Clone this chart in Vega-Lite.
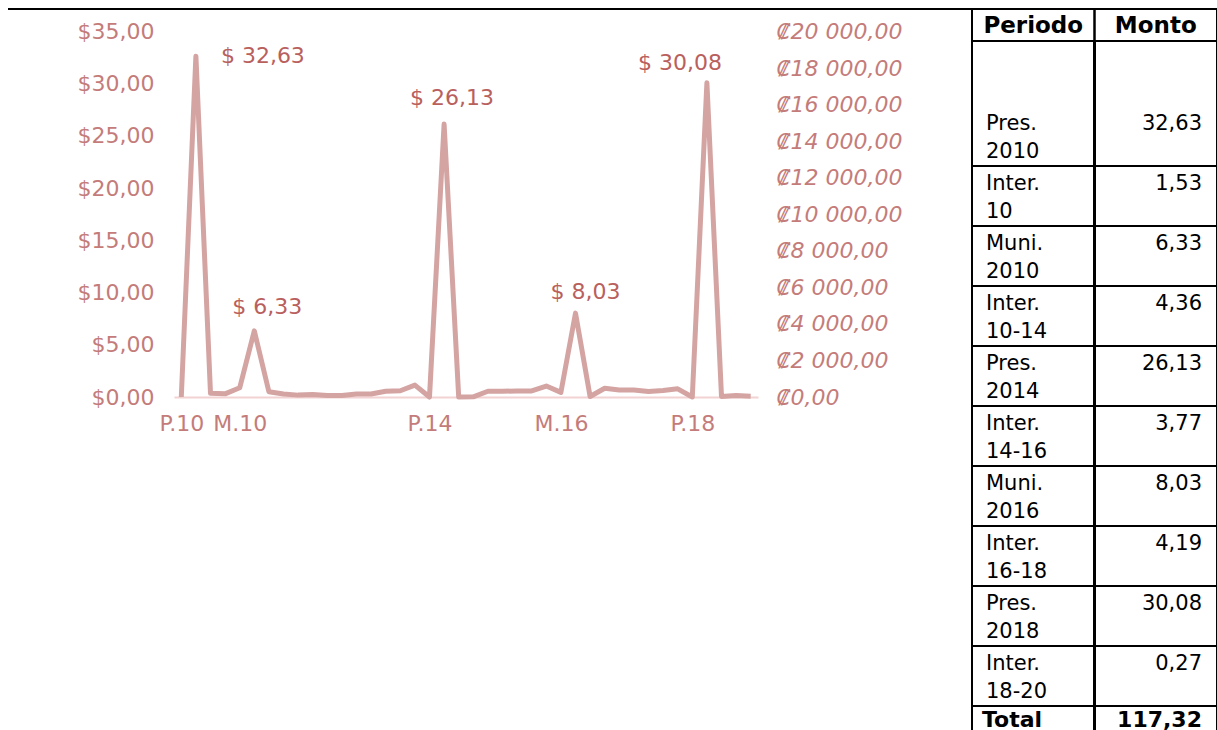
{
  "$schema": "https://vega.github.io/schema/vega-lite/v6.json",
  "background": "white",
  "padding": {"left": 7, "top": 7, "right": 0, "bottom": 0},
  "autosize": {"type": "pad"},
  "bounds": "flush",
  "spacing": 214,
  "config": {
    "font": "DejaVu Sans",
    "view": {"stroke": null}
  },
  "datasets": {
    "serie": [
      {"n": 0, "monto": 0},
      {"n": 1, "monto": 32.63},
      {"n": 2, "monto": 0.35},
      {"n": 3, "monto": 0.3},
      {"n": 4, "monto": 0.88},
      {"n": 5, "monto": 6.33},
      {"n": 6, "monto": 0.5},
      {"n": 7, "monto": 0.28},
      {"n": 8, "monto": 0.18},
      {"n": 9, "monto": 0.25},
      {"n": 10, "monto": 0.15},
      {"n": 11, "monto": 0.15},
      {"n": 12, "monto": 0.28},
      {"n": 13, "monto": 0.28},
      {"n": 14, "monto": 0.55},
      {"n": 15, "monto": 0.6},
      {"n": 16, "monto": 1.14},
      {"n": 17, "monto": 0},
      {"n": 18, "monto": 26.13},
      {"n": 19, "monto": 0},
      {"n": 20, "monto": 0.02},
      {"n": 21, "monto": 0.55},
      {"n": 22, "monto": 0.55},
      {"n": 23, "monto": 0.58},
      {"n": 24, "monto": 0.58},
      {"n": 25, "monto": 1.05},
      {"n": 26, "monto": 0.44},
      {"n": 27, "monto": 8.03},
      {"n": 28, "monto": 0.05},
      {"n": 29, "monto": 0.84},
      {"n": 30, "monto": 0.68},
      {"n": 31, "monto": 0.68},
      {"n": 32, "monto": 0.53},
      {"n": 33, "monto": 0.63},
      {"n": 34, "monto": 0.78},
      {"n": 35, "monto": 0},
      {"n": 36, "monto": 30.08},
      {"n": 37, "monto": 0.05},
      {"n": 38, "monto": 0.14},
      {"n": 39, "monto": 0.08}
    ],
    "tabla": [
      {"periodo": "Pres. 2010", "monto": 32.63},
      {"periodo": "Inter. 10", "monto": 1.53},
      {"periodo": "Muni. 2010", "monto": 6.33},
      {"periodo": "Inter. 10-14", "monto": 4.36},
      {"periodo": "Pres. 2014", "monto": 26.13},
      {"periodo": "Inter. 14-16", "monto": 3.77},
      {"periodo": "Muni. 2016", "monto": 8.03},
      {"periodo": "Inter. 16-18", "monto": 4.19},
      {"periodo": "Pres. 2018", "monto": 30.08},
      {"periodo": "Inter. 18-20", "monto": 0.27},
      {"periodo": "Total", "monto": 117.32}
    ]
  },
  "hconcat": [
    {
      "width": 584,
      "height": 388,
      "layer": [
        {
          "data": {"name": "serie"},
          "layer": [
            {
              "mark": {"type": "line", "color": "#d4a4a3", "strokeWidth": 5, "strokeJoin": "round"},
              "encoding": {
                "x": {
                  "field": "n", "type": "quantitative",
                  "scale": {"domain": [-0.5, 39.5], "nice": false, "zero": false},
                  "axis": {
                    "values": [0, 4, 17, 26, 35],
                    "labelExpr": "datum.value == 0 ? 'P.10' : datum.value == 4 ? 'M.10' : datum.value == 17 ? 'P.14' : datum.value == 26 ? 'M.16' : 'P.18'",
                    "grid": false, "ticks": false, "domainColor": "#f2d2d2", "domainWidth": 2,
                    "labelFontSize": 22, "labelColor": "#c47c7a", "labelPadding": 16,
                    "labelFlush": false, "labelOverlap": false, "labelBound": false, "title": null
                  }
                },
                "y": {
                  "field": "monto", "type": "quantitative",
                  "scale": {"domain": [0, 37.15], "nice": false},
                  "axis": {
                    "values": [0, 5, 10, 15, 20, 25, 30, 35],
                    "labelExpr": "'$' + replace(format(datum.value, '.2f'), '.', ',')",
                    "grid": false, "ticks": false, "domain": false,
                    "labelFontSize": 22, "labelColor": "#c47c7a", "labelPadding": 20, "title": null
                  }
                }
              }
            },
            {
              "transform": [{"filter": "datum.n == 1"}],
              "mark": {"type": "text", "align": "left", "baseline": "middle", "dx": 25, "dy": 0, "fontSize": 22, "color": "#b9605d",
                       "text": {"expr": "'$ ' + replace(format(datum.monto, '.2f'), '.', ',')"}},
              "encoding": {"x": {"field": "n", "type": "quantitative"}, "y": {"field": "monto", "type": "quantitative"}}
            },
            {
              "transform": [{"filter": "datum.n == 18"}],
              "mark": {"type": "text", "align": "center", "baseline": "middle", "dx": 8, "dy": -26, "fontSize": 22, "color": "#b9605d",
                       "text": {"expr": "'$ ' + replace(format(datum.monto, '.2f'), '.', ',')"}},
              "encoding": {"x": {"field": "n", "type": "quantitative"}, "y": {"field": "monto", "type": "quantitative"}}
            },
            {
              "transform": [{"filter": "datum.n == 5"}],
              "mark": {"type": "text", "align": "center", "baseline": "middle", "dx": 13, "dy": -24, "fontSize": 22, "color": "#b9605d",
                       "text": {"expr": "'$ ' + replace(format(datum.monto, '.2f'), '.', ',')"}},
              "encoding": {"x": {"field": "n", "type": "quantitative"}, "y": {"field": "monto", "type": "quantitative"}}
            },
            {
              "transform": [{"filter": "datum.n == 27"}],
              "mark": {"type": "text", "align": "center", "baseline": "middle", "dx": 10, "dy": -21, "fontSize": 22, "color": "#b9605d",
                       "text": {"expr": "'$ ' + replace(format(datum.monto, '.2f'), '.', ',')"}},
              "encoding": {"x": {"field": "n", "type": "quantitative"}, "y": {"field": "monto", "type": "quantitative"}}
            },
            {
              "transform": [{"filter": "datum.n == 36"}],
              "mark": {"type": "text", "align": "center", "baseline": "middle", "dx": -27, "dy": -20, "fontSize": 22, "color": "#b9605d",
                       "text": {"expr": "'$ ' + replace(format(datum.monto, '.2f'), '.', ',')"}},
              "encoding": {"x": {"field": "n", "type": "quantitative"}, "y": {"field": "monto", "type": "quantitative"}}
            },
            {
              "mark": {"type": "rule", "color": "black", "strokeWidth": 1.5, "clip": false},
              "encoding": {
                "x": {"datum": -11.87, "type": "quantitative"},
                "x2": {"datum": 54.16},
                "y": {"datum": 37.15, "type": "quantitative"}
              }
            }
          ]
        },
        {
          "data": {"values": [{"k": 0}]},
          "mark": {"type": "point", "opacity": 0},
          "encoding": {
            "y": {
              "datum": 0, "type": "quantitative",
              "scale": {"domain": [0, 21229], "nice": false},
              "axis": {
                "orient": "right",
                "values": [0, 2000, 4000, 6000, 8000, 10000, 12000, 14000, 16000, 18000, 20000],
                "labelExpr": "'₡' + replace(replace(format(datum.value, ',.2f'), ',', ' '), '.', ',')",
                "grid": false, "ticks": false, "domain": false,
                "labelFontSize": 22, "labelFontStyle": "italic", "labelColor": "#c47c7a", "labelPadding": 18, "title": null
              }
            }
          }
        }
      ],
      "resolve": {"scale": {"y": "independent"}}
    },
    {
      "vconcat": [
        {
          "width": 245,
          "height": 32,
          "data": {"values": [{"columna": "Periodo"}, {"columna": "Monto"}]},
          "view": {"stroke": "black", "strokeWidth": 2},
          "layer": [
            {
              "mark": {"type": "text", "fontWeight": "bold", "fontSize": 23, "color": "black", "baseline": "middle", "dy": 1},
              "encoding": {
                "x": {"field": "columna", "type": "nominal", "sort": null, "scale": {"type": "band", "paddingInner": 0, "paddingOuter": 0}, "axis": null},
                "text": {"field": "columna"}
              }
            },
            {
              "mark": {"type": "rule", "color": "black", "strokeWidth": 2},
              "encoding": {"x": {"datum": "Monto", "type": "nominal", "bandPosition": 0}}
            }
          ]
        },
        {
          "width": 245,
          "height": 689,
          "data": {"name": "tabla"},
          "layer": [
            {
              "mark": {"type": "rule", "color": "black", "strokeWidth": 2, "clip": true},
              "encoding": {
                "y": {"field": "periodo", "type": "nominal", "sort": null, "bandPosition": 1,
                      "scale": {"type": "band", "range": [65, 725], "paddingInner": 0, "paddingOuter": 0}, "axis": null}
              }
            },
            {
              "mark": {"type": "rule", "color": "black", "strokeWidth": 2},
              "encoding": {"x": {"datum": "Periodo", "type": "nominal", "bandPosition": 0,
                                  "scale": {"type": "band", "domain": ["Periodo", "Monto"], "paddingInner": 0, "paddingOuter": 0}, "axis": null}}
            },
            {
              "mark": {"type": "rule", "color": "black", "strokeWidth": 2},
              "encoding": {"x": {"datum": "Monto", "type": "nominal", "bandPosition": 0}}
            },
            {
              "mark": {"type": "rule", "color": "black", "strokeWidth": 2},
              "encoding": {"x": {"datum": "Monto", "type": "nominal", "bandPosition": 1}}
            },
            {
              "transform": [{"filter": "datum.periodo != 'Total'"}],
              "mark": {"type": "text", "align": "left", "baseline": "alphabetic", "dx": 14, "dy": 24, "fontSize": 21, "color": "black",
                       "lineBreak": " ", "lineHeight": 28, "clip": true},
              "encoding": {
                "x": {"datum": "Periodo", "type": "nominal", "bandPosition": 0},
                "y": {"field": "periodo", "type": "nominal", "sort": null, "bandPosition": 0},
                "text": {"field": "periodo"}
              }
            },
            {
              "transform": [{"filter": "datum.periodo != 'Total'"}],
              "mark": {"type": "text", "align": "right", "baseline": "alphabetic", "dx": -15, "dy": 24, "fontSize": 21, "color": "black", "clip": true,
                       "text": {"expr": "replace(format(datum.monto, '.2f'), '.', ',')"}},
              "encoding": {
                "x": {"datum": "Monto", "type": "nominal", "bandPosition": 1},
                "y": {"field": "periodo", "type": "nominal", "sort": null, "bandPosition": 0}
              }
            },
            {
              "transform": [{"filter": "datum.periodo == 'Total'"}],
              "mark": {"type": "text", "align": "left", "baseline": "alphabetic", "dx": 10, "dy": 21, "fontSize": 22, "fontWeight": "bold", "color": "black", "clip": true},
              "encoding": {
                "x": {"datum": "Periodo", "type": "nominal", "bandPosition": 0},
                "y": {"field": "periodo", "type": "nominal", "sort": null, "bandPosition": 0},
                "text": {"field": "periodo"}
              }
            },
            {
              "transform": [{"filter": "datum.periodo == 'Total'"}],
              "mark": {"type": "text", "align": "right", "baseline": "alphabetic", "dx": -15, "dy": 21, "fontSize": 22, "fontWeight": "bold", "color": "black", "clip": true,
                       "text": {"expr": "replace(format(datum.monto, '.2f'), '.', ',')"}},
              "encoding": {
                "x": {"datum": "Monto", "type": "nominal", "bandPosition": 1},
                "y": {"field": "periodo", "type": "nominal", "sort": null, "bandPosition": 0}
              }
            }
          ]
        }
      ],
      "spacing": 0,
      "bounds": "flush"
    }
  ]
}
